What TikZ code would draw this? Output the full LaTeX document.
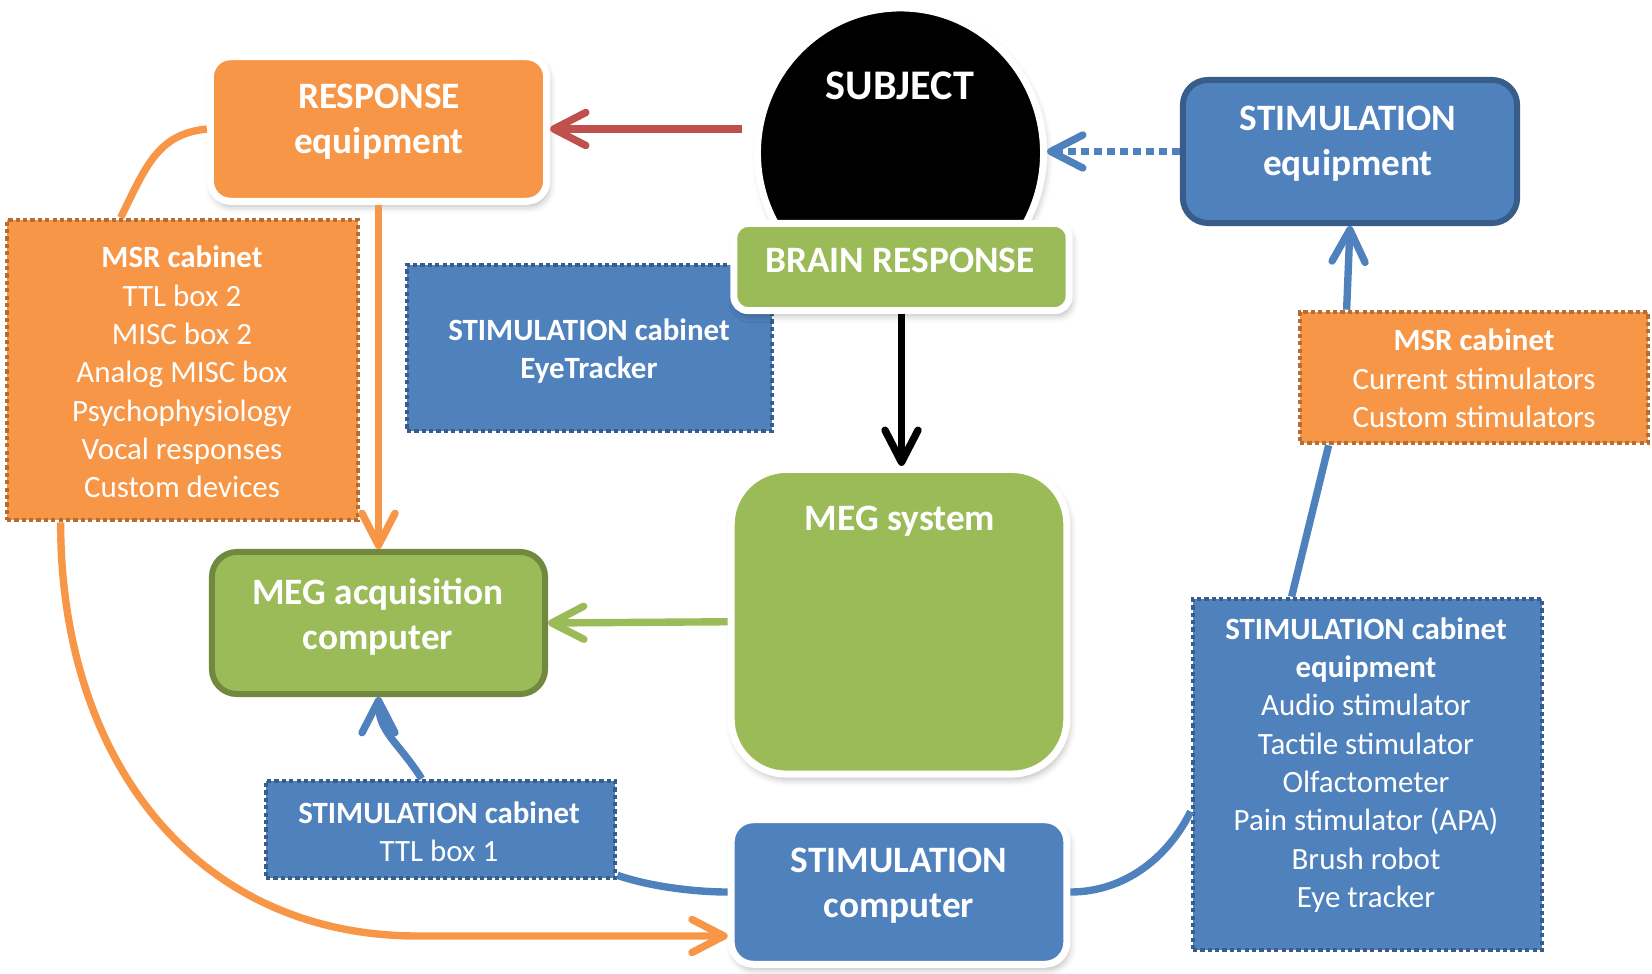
\documentclass[tikz,border=0pt]{standalone}
\usepackage{fontspec}
\setmainfont{Carlito}
\usepackage{xcolor}
\usepackage{tikz}
\usetikzlibrary{calc, shapes.geometric, shadows.blur, arrows.meta}
\definecolor{megOrange}{HTML}{F79646}
\definecolor{megOrangeDark}{HTML}{B66D31}
\definecolor{megGreen}{HTML}{9BBB59}
\definecolor{megGreenDark}{HTML}{71893F}
\definecolor{megBlue}{HTML}{4F81BD}
\definecolor{megBlueDark}{HTML}{385D8A}
\definecolor{megRed}{HTML}{C0504D}

\begin{document}
\begin{tikzpicture}[x=0.01cm, y=-0.01cm,
        softshadow/.style={blur shadow={shadow xshift=0.6pt, shadow yshift=-1.4pt,
            shadow blur radius=2pt, shadow opacity=30}},
        whitebox/.style={rectangle, draw=white, line width=2pt, inner sep=0pt, softshadow},
        edgebox/.style={rectangle, line width=1.7pt, inner sep=0pt},
        cabbox/.style={rectangle, line width=1.3pt, dash pattern=on 1.2pt off 0.9pt, inner sep=0pt},
        bigtxt/.style={text=white, font=\bfseries\fontsize{10.6}{12.8}\selectfont, align=center},
        smalltxt/.style={text=white, font=\fontsize{8.8}{10.9}\selectfont, align=center},
        link/.style={line width=2.1pt},
        arrowlink/.style={link, -{Straight Barb[length=3.2mm, width=3.3mm, round]}}]
    \useasboundingbox (0,0) rectangle (1652,973);

    % cabinet behind the brain response box
    \node[cabbox, fill=megBlue, draw=megBlueDark, minimum width=3.65cm, minimum height=1.66cm] (eyecab) at (589.5,348) {};
    \node[smalltxt] (eyecabtxt) at (589,351) {\textbf{STIMULATION cabinet}\\\textbf{EyeTracker}};

    % subject and brain response
    \node[ellipse, fill=black, draw=white, line width=2pt, softshadow, inner sep=0pt,
          minimum width=2.86cm, minimum height=2.9cm] (subject) at (900.5,153) {};
    \node[bigtxt, font=\bfseries\fontsize{12}{14}\selectfont] (subjecttxt) at (900,86) {SUBJECT};
    \node[whitebox, fill=megGreen, rounded corners=0.14cm, minimum width=3.35cm, minimum height=0.87cm] (brain) at (901.5,267) {};
    \node[bigtxt] (braintxt) at (900,260) {BRAIN RESPONSE};

    % main boxes
    \node[whitebox, fill=megOrange, rounded corners=0.2cm, minimum width=3.36cm, minimum height=1.445cm] (response) at (378.5,129) {};
    \node[bigtxt] (responsetxt) at (379,121.5) {RESPONSE\\equipment};
    \node[edgebox, fill=megBlue, draw=megBlueDark, rounded corners=0.25cm, minimum width=3.34cm, minimum height=1.43cm] (stimequip) at (1350,151.5) {};
    \node[bigtxt] (stimequiptxt) at (1348,143.5) {STIMULATION\\equipment};
    \node[whitebox, fill=megGreen, rounded corners=0.55cm, minimum width=3.355cm, minimum height=3.045cm] (megsys) at (899,621.75) {};
    \node[bigtxt] (megsystxt) at (900,521) {MEG system};
    \node[edgebox, fill=megGreen, draw=megGreenDark, rounded corners=0.25cm, minimum width=3.33cm, minimum height=1.42cm] (megacq) at (378.5,623) {};
    \node[bigtxt] (megacqtxt) at (378,617) {MEG acquisition\\computer};
    \node[whitebox, fill=megBlue, rounded corners=0.22cm, minimum width=3.355cm, minimum height=1.445cm] (stimcomp) at (899,892) {};
    \node[bigtxt] (stimcomptxt) at (899,886) {STIMULATION\\computer};

    % cabinets
    \node[cabbox, fill=megOrange, draw=megOrangeDark, minimum width=3.51cm, minimum height=3.0cm] (msrleft) at (182.5,370) {};
    \node[smalltxt] (msrlefttxt) at (182,372) {\textbf{MSR cabinet}\\TTL box 2\\MISC box 2\\Analog MISC box\\Psychophysiology\\Vocal responses\\Custom devices};
    \node[cabbox, fill=megOrange, draw=megOrangeDark, minimum width=3.48cm, minimum height=1.31cm] (msrright) at (1474,377.5) {};
    \node[smalltxt] (msrrighttxt) at (1474,378.5) {\textbf{MSR cabinet}\\Current stimulators\\Custom stimulators};
    \node[cabbox, fill=megBlue, draw=megBlueDark, minimum width=3.49cm, minimum height=0.97cm] (ttlcab) at (440.5,829.5) {};
    \node[smalltxt] (ttlcabtxt) at (439,831.5) {\textbf{STIMULATION cabinet}\\TTL box 1};
    \node[cabbox, fill=megBlue, draw=megBlueDark, minimum width=3.49cm, minimum height=3.51cm] (stimcab) at (1367.5,774.5) {};
    \node[smalltxt] (stimcabtxt) at (1366,765) {\textbf{STIMULATION cabinet}\\\textbf{equipment}\\Audio stimulator\\Tactile stimulator\\Olfactometer\\Pain stimulator (APA)\\Brush robot\\Eye tracker};

    % connectors
    \draw[arrowlink, megRed] ($(subject.west |- response.east)+(-12,0)$) -- (response.east);
    \draw[arrowlink, megBlue, dash pattern=on 2.2pt off 1.5pt] (stimequip.west) -- (subject.east |- stimequip.west);
    \draw[arrowlink, black] (brain.south) -- (brain.south |- megsys.north);
    \draw[arrowlink, megGreen] (megsys.west) -- (megacq.east);
    \draw[arrowlink, megOrange] (response.south) -- (megacq.north);
    \draw[link, megOrange] (response.west) .. controls +(-50,5) and +(25,-50) .. ($(msrleft.north west)+(116,0)$);
    \draw[arrowlink, megOrange] ($(msrleft.south west)+(56,0)$) .. controls +(0,240) and +(-220,0) .. ($(stimcomp.west)+(-310,44)$) -- ($(stimcomp.west)+(0,44)$);
    \draw[arrowlink, megBlue] ($(ttlcab.north west)+(158,0)$) .. controls +(-22,-35) and +(0,35) .. (megacq.south);
    \draw[link, megBlue] ($(ttlcab.south east)+(0,-5)$) .. controls +(35,12) and +(-30,0) .. (stimcomp.west);
    \draw[link, megBlue] (stimcomp.east) .. controls +(55,0) and +(-22,45) .. ($(stimcab.west)+(0,37)$);
    \draw[link, megBlue] ($(stimcab.north west)+(101,0)$) -- ($(msrright.south west)+(31,0)$);
    \draw[arrowlink, megBlue] ($(msrright.north west)+(49,0)$) -- (stimequip.south);
\end{tikzpicture}
\end{document}
